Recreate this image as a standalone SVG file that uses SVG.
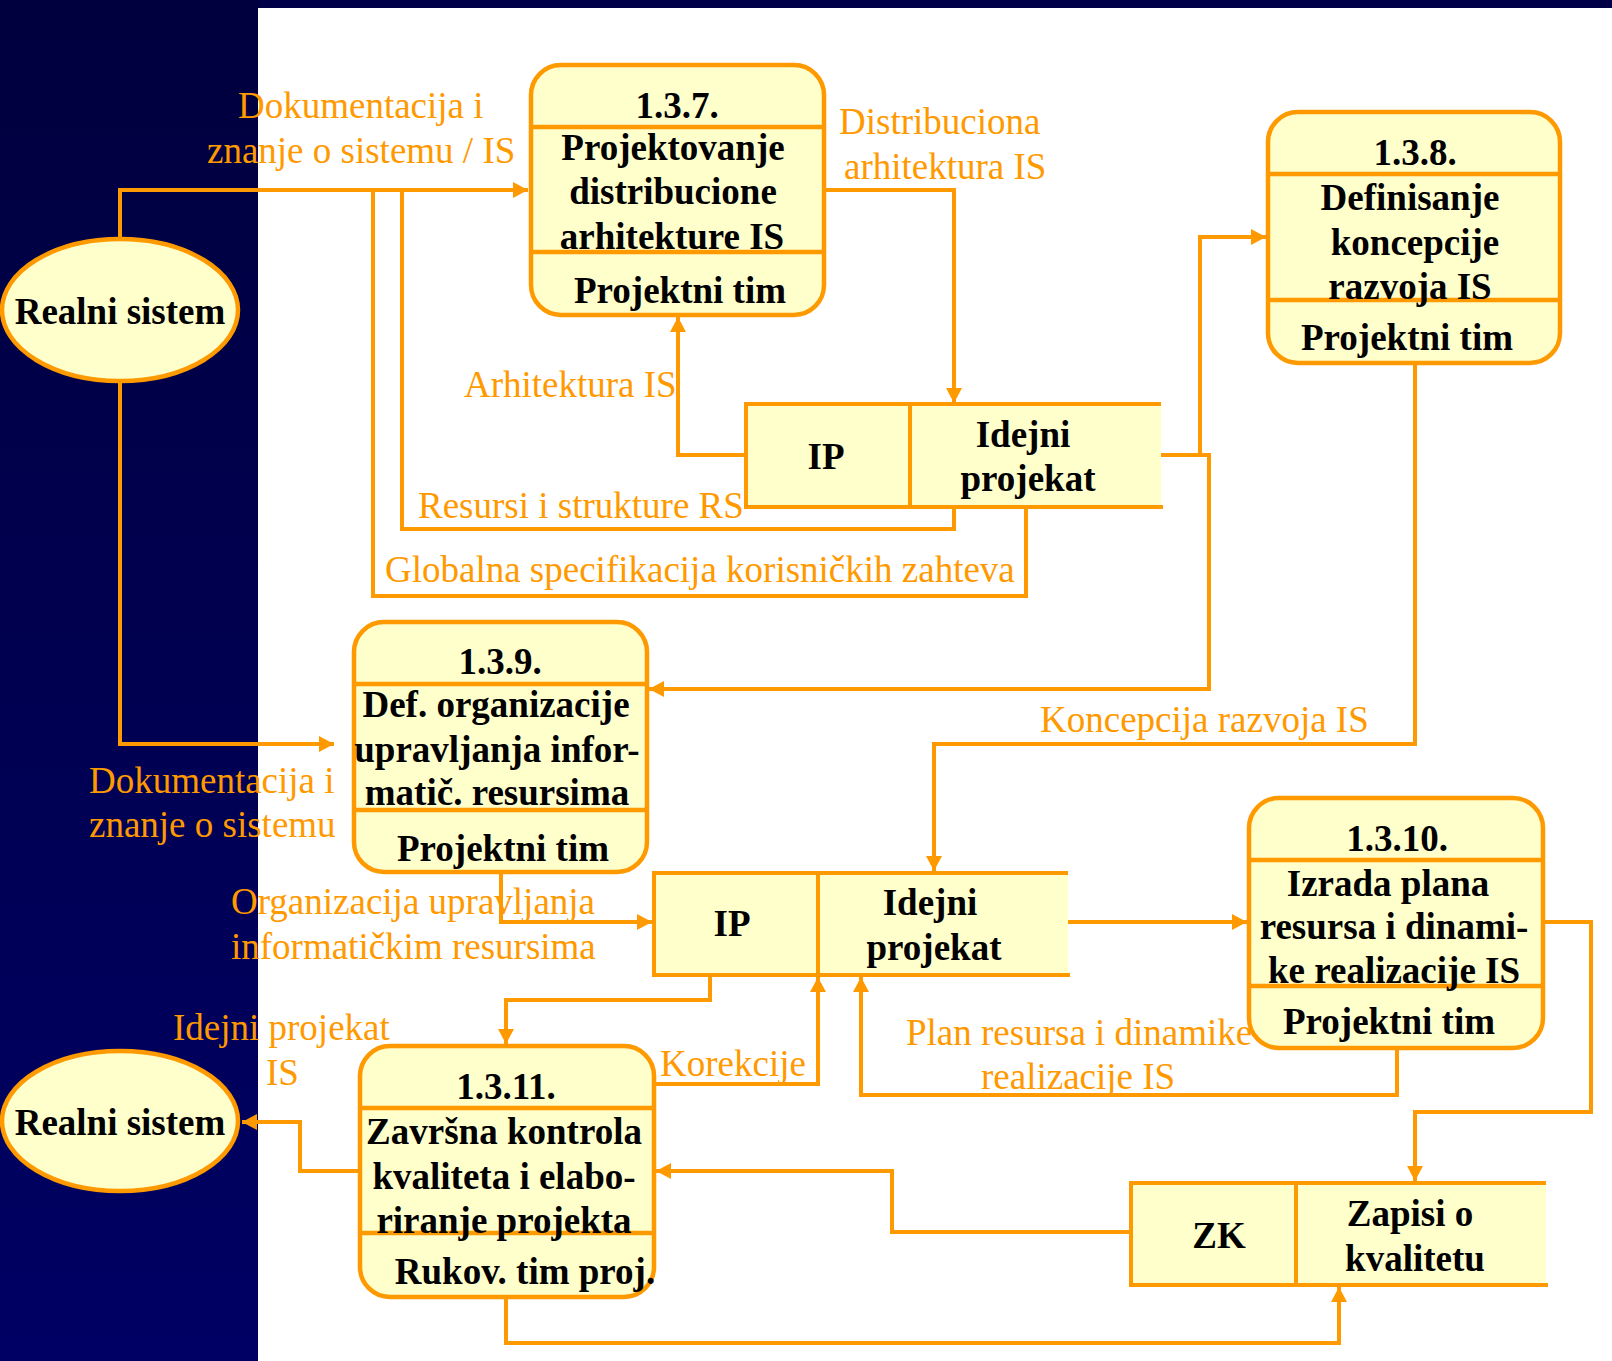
<svg xmlns="http://www.w3.org/2000/svg" width="1612" height="1361" viewBox="0 0 1612 1361">
<style>
.bg{fill:#fff}
.ln{fill:none;stroke:#FF9900;stroke-width:4}
.nd{fill:#FFFFCC;stroke:#FF9900;stroke-width:4.5}
.dv{stroke:#FF9900;stroke-width:4.5}
.st{fill:#FFFFCC;stroke:none}
.t{font-family:"Liberation Serif","Times New Roman",serif;font-size:37px;font-weight:bold;fill:#000;text-anchor:middle}
.l{font-family:"Liberation Serif","Times New Roman",serif;font-size:37px;fill:#FF9900}
</style>
<defs>
<linearGradient id="navy" x1="0" y1="0" x2="0" y2="1">
<stop offset="0" stop-color="#00003E"/>
<stop offset="1" stop-color="#000064"/>
</linearGradient>
<marker id="ah" markerUnits="userSpaceOnUse" viewBox="0 0 15 16" refX="15" refY="8" markerWidth="15" markerHeight="16" orient="auto">
<path d="M0,0 L15,8 L0,16 z" fill="#FF9900"/>
</marker>
</defs>
<rect x="0" y="0" width="1612" height="1361" class="bg"/>
<rect x="0" y="0" width="258" height="1361" fill="url(#navy)"/>
<rect x="258" y="0" width="1354" height="8" fill="#000048"/>

<g id="connectors">
<path class="ln" d="M120,238 V190 H528" marker-end="url(#ah)"/>
<path class="ln" d="M954,507 V529 H402 V190"/>
<path class="ln" d="M1026,507 V596 H373 V190"/>
<path class="ln" d="M746,455 H678 V317" marker-end="url(#ah)"/>
<path class="ln" d="M824,190 H954 V403" marker-end="url(#ah)"/>
<path class="ln" d="M1161,455 H1200 V237 H1266" marker-end="url(#ah)"/>
<path class="ln" d="M1161,455 H1209 V689 H649" marker-end="url(#ah)"/>
<path class="ln" d="M1415,363 V744 H934 V871" marker-end="url(#ah)"/>
<path class="ln" d="M120,382 V744 H334" marker-end="url(#ah)"/>
<path class="ln" d="M501,872 V922 H652" marker-end="url(#ah)"/>
<path class="ln" d="M1068,922 H1247" marker-end="url(#ah)"/>
<path class="ln" d="M1543,922 H1591 V1112 H1415 V1181" marker-end="url(#ah)"/>
<path class="ln" d="M1397,1048 V1095 H861 V977" marker-end="url(#ah)"/>
<path class="ln" d="M710,975 V1000 H506 V1044" marker-end="url(#ah)"/>
<path class="ln" d="M654,1084 H818 V977" marker-end="url(#ah)"/>
<path class="ln" d="M1131,1232 H892 V1171 H656" marker-end="url(#ah)"/>
<path class="ln" d="M506,1297 V1343 H1339 V1287" marker-end="url(#ah)"/>
<path class="ln" d="M360,1171 H300 V1122 H242" marker-end="url(#ah)"/>
</g>

<g id="realni-sistem-1">
<ellipse class="nd" cx="120" cy="310" rx="118" ry="71"/>
<text class="t" x="120" y="324">Realni sistem</text>
</g>

<g id="realni-sistem-2">
<ellipse class="nd" cx="120" cy="1121" rx="118" ry="70"/>
<text class="t" x="120" y="1135">Realni sistem</text>
</g>

<g id="p137">
<rect class="nd" x="531" y="65" width="293" height="250" rx="30"/>
<line class="dv" x1="531" y1="127" x2="824" y2="127"/>
<line class="dv" x1="531" y1="252" x2="824" y2="252"/>
<text class="t" x="677" y="118">1.3.7.</text>
<text class="t" x="673" y="160">Projektovanje</text>
<text class="t" x="673" y="204">distribucione</text>
<text class="t" x="672" y="249">arhitekture IS</text>
<text class="t" x="680" y="303">Projektni tim</text>
</g>

<g id="p138">
<rect class="nd" x="1268" y="112" width="292" height="251" rx="30"/>
<line class="dv" x1="1268" y1="174" x2="1560" y2="174"/>
<line class="dv" x1="1268" y1="300" x2="1560" y2="300"/>
<text class="t" x="1415" y="165">1.3.8.</text>
<text class="t" x="1410" y="210">Definisanje</text>
<text class="t" x="1415" y="255">koncepcije</text>
<text class="t" x="1410" y="299">razvoja IS</text>
<text class="t" x="1407" y="350">Projektni tim</text>
</g>

<g id="p139">
<rect class="nd" x="354" y="622" width="293" height="250" rx="30"/>
<line class="dv" x1="354" y1="684" x2="647" y2="684"/>
<line class="dv" x1="354" y1="810" x2="647" y2="810"/>
<text class="t" x="500" y="674">1.3.9.</text>
<text class="t" x="496" y="717">Def. organizacije</text>
<text class="t" x="497" y="762">upravljanja infor-</text>
<text class="t" x="497" y="805">matič. resursima</text>
<text class="t" x="503" y="861">Projektni tim</text>
</g>

<g id="p1310">
<rect class="nd" x="1249" y="798" width="294" height="250" rx="30"/>
<line class="dv" x1="1249" y1="860" x2="1543" y2="860"/>
<line class="dv" x1="1249" y1="986" x2="1543" y2="986"/>
<text class="t" x="1397" y="851">1.3.10.</text>
<text class="t" x="1388" y="896">Izrada plana</text>
<text class="t" x="1394" y="939">resursa i dinami-</text>
<text class="t" x="1394" y="983">ke realizacije IS</text>
<text class="t" x="1389" y="1034">Projektni tim</text>
</g>

<g id="p1311">
<rect class="nd" x="360" y="1046" width="294" height="251" rx="30"/>
<line class="dv" x1="360" y1="1108" x2="654" y2="1108"/>
<line class="dv" x1="360" y1="1233" x2="654" y2="1233"/>
<text class="t" x="506" y="1099">1.3.11.</text>
<text class="t" x="504" y="1144">Završna kontrola</text>
<text class="t" x="504" y="1189">kvaliteta i elabo-</text>
<text class="t" x="504" y="1233">riranje projekta</text>
<text class="t" x="525" y="1284">Rukov. tim proj.</text>
</g>

<g id="store-ip-1">
<rect class="st" x="746" y="404" width="415" height="103"/>
<path class="ln" d="M1161,404 H746 V507 H1163 M910,404 V507" stroke-width="4.5"/>
<text class="t" x="826" y="469">IP</text>
<text class="t" x="1023" y="447">Idejni</text>
<text class="t" x="1028" y="491">projekat</text>
</g>

<g id="store-ip-2">
<rect class="st" x="654" y="873" width="414" height="102"/>
<path class="ln" d="M1068,873 H654 V975 H1070 M818,873 V975" stroke-width="4.5"/>
<text class="t" x="732" y="936">IP</text>
<text class="t" x="930" y="915">Idejni</text>
<text class="t" x="934" y="960">projekat</text>
</g>

<g id="store-zk">
<rect class="st" x="1131" y="1183" width="415" height="102"/>
<path class="ln" d="M1546,1183 H1131 V1285 H1548 M1296,1183 V1285" stroke-width="4.5"/>
<text class="t" x="1219" y="1248">ZK</text>
<text class="t" x="1410" y="1226">Zapisi o</text>
<text class="t" x="1415" y="1271">kvalitetu</text>
</g>

<g id="labels">
<text class="l" x="238" y="118">Dokumentacija i</text>
<text class="l" x="207" y="163">znanje o sistemu / IS</text>
<text class="l" x="839" y="134">Distribuciona</text>
<text class="l" x="844" y="179">arhitektura IS</text>
<text class="l" x="464" y="397">Arhitektura IS</text>
<text class="l" x="418" y="518">Resursi i strukture RS</text>
<text class="l" x="385" y="582">Globalna specifikacija korisničkih zahteva</text>
<text class="l" x="1040" y="732">Koncepcija razvoja IS</text>
<text class="l" x="89" y="793">Dokumentacija i</text>
<text class="l" x="89" y="837">znanje o sistemu</text>
<text class="l" x="231" y="914">Organizacija upravljanja</text>
<text class="l" x="231" y="959">informatičkim resursima</text>
<text class="l" x="906" y="1045">Plan resursa i dinamike</text>
<text class="l" x="981" y="1089">realizacije IS</text>
<text class="l" x="173" y="1040">Idejni projekat</text>
<text class="l" x="266" y="1085">IS</text>
<text class="l" x="660" y="1076">Korekcije</text>
</g>
</svg>
